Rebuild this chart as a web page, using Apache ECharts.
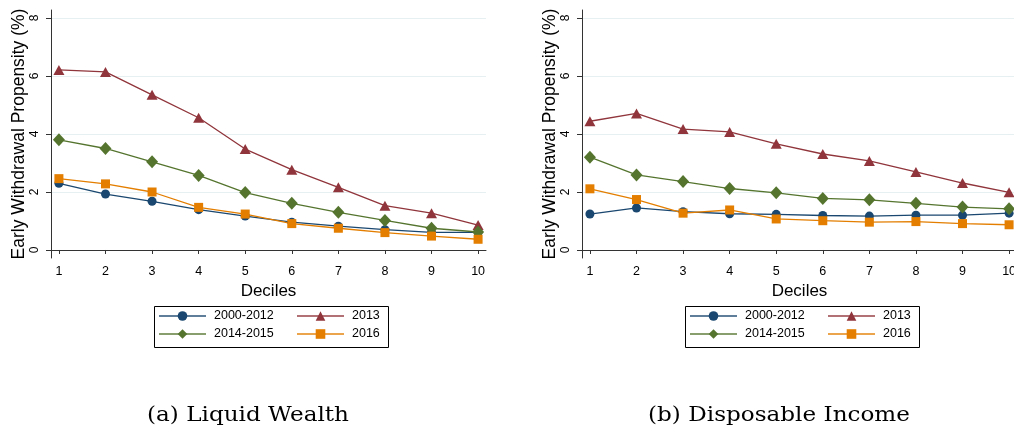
<!DOCTYPE html>
<html>
<head>
<meta charset="utf-8">
<script src="https://cdn.jsdelivr.net/npm/echarts@6/dist/echarts.min.js"></script>
<style>
html,body{margin:0;padding:0;background:#fff;}
#c{width:1014px;height:431px;}
</style>
</head>
<body>
<div id="c"></div>
<script>
const deciles = [1, 2, 3, 4, 5, 6, 7, 8, 9, 10];
const yTicks = [0, 2, 4, 6, 8];
const seriesNames = ['2000-2012', '2013', '2014-2015', '2016'];
const captions = ['(a) Liquid Wealth', '(b) Disposable Income'];

// Panel (a): Liquid Wealth
const wealth_2000_2012 = [2.30, 1.93, 1.68, 1.39, 1.17, 0.96, 0.82, 0.70, 0.61, 0.61];
const wealth_2013      = [6.21, 6.14, 5.35, 4.56, 3.48, 2.77, 2.16, 1.53, 1.27, 0.86];
const wealth_2014_2015 = [3.80, 3.50, 3.04, 2.57, 1.98, 1.61, 1.30, 1.02, 0.75, 0.62];
const wealth_2016      = [2.46, 2.28, 2.00, 1.47, 1.24, 0.91, 0.75, 0.60, 0.48, 0.37];

// Panel (b): Disposable Income
const income_2000_2012 = [1.24, 1.45, 1.32, 1.25, 1.23, 1.19, 1.17, 1.20, 1.20, 1.27];
const income_2013      = [4.44, 4.71, 4.17, 4.07, 3.66, 3.31, 3.07, 2.69, 2.31, 1.99];
const income_2014_2015 = [3.20, 2.59, 2.36, 2.12, 1.97, 1.78, 1.73, 1.61, 1.48, 1.42];
const income_2016      = [2.11, 1.74, 1.27, 1.38, 1.07, 1.01, 0.96, 0.98, 0.91, 0.87];

const colors = ['#1a476f', '#90353b', '#55752f', '#e37e00'];
const symbols = ['circle', 'triangle', 'diamond', 'rect'];
const symSizes = [9, [11, 10], [12, 13], 9];

const panels = [
  [wealth_2000_2012, wealth_2013, wealth_2014_2015, wealth_2016],
  [income_2000_2012, income_2013, income_2014_2015, income_2016]
];

const gridLefts = [51, 582];
const axisColor = '#333';
const font = '"Liberation Sans", Arial, sans-serif';

const grids = gridLefts.map(l => ({left: l, top: 10, width: 435, height: 248,
  containLabel: false, outerBoundsMode: 'none'}));

const xAxes = gridLefts.map((l, i) => ({
  type: 'value', gridIndex: i, min: 0.83, max: 10.17,
  name: 'Deciles', nameLocation: 'middle', nameGap: 17,
  nameTextStyle: {fontFamily: font, fontSize: 17, color: '#000'},
  axisLine: {show: true, lineStyle: {color: axisColor, width: 1}},
  axisTick: {show: true, length: 4, lineStyle: {color: axisColor}, customValues: deciles},
  axisLabel: {fontFamily: font, fontSize: 12.5, color: '#000', margin: 7, customValues: deciles},
  splitLine: {show: false}
}));

const yAxes = gridLefts.map((l, i) => ({
  type: 'value', gridIndex: i, min: -0.276, max: 8.276,
  name: 'Early Withdrawal Propensity (%)', nameLocation: 'middle', nameGap: 21,
  nameTextStyle: {fontFamily: font, fontSize: 17.5, color: '#000'},
  axisLine: {show: true, lineStyle: {color: axisColor, width: 1}},
  axisTick: {show: true, length: 5, lineStyle: {color: axisColor}, customValues: yTicks},
  axisLabel: {fontFamily: font, fontSize: 12, color: '#000', margin: 10, rotate: 90, customValues: yTicks},
  splitLine: {show: true, lineStyle: {color: '#e6eff1', width: 1}, customValues: yTicks}
}));

const series = [];
panels.forEach((panel, p) => {
  panel.forEach((vals, s) => {
    series.push({
      name: seriesNames[s], type: 'line', xAxisIndex: p, yAxisIndex: p,
      data: deciles.map((d, k) => [d, vals[k]]),
      symbol: symbols[s], symbolSize: symSizes[s], showSymbol: true,
      lineStyle: {color: colors[s], width: 1.3},
      itemStyle: {color: colors[s]},
      animation: false
    });
  });
});

const legends = gridLefts.map((l, i) => ({
  left: l + 107, top: 308, width: 280, orient: 'horizontal',
  itemWidth: 47, itemHeight: 12, itemGap: 2, padding: 0,
  data: seriesNames,
  lineStyle: {opacity: 0.7},
  textStyle: {fontFamily: font, fontSize: 12.5, color: '#000', width: 80, lineHeight: 16, padding: [0, 0, 0, 3]}
}));

const graphics = [];
gridLefts.forEach((l, i) => {
  graphics.push({type: 'rect', left: l + 101, top: 304, shape: {width: 234, height: 41},
    style: {fill: 'none', stroke: '#000', lineWidth: 1}, silent: true});
});
const captionCenters = [248, 779];
captions.forEach((t, i) => {
  graphics.push({type: 'text', x: captionCenters[i], y: 416, scaleX: 1.1,
    style: {text: t, font: '21px "DejaVu Serif", "Liberation Serif", serif', fill: '#000', textAlign: 'center', textVerticalAlign: 'middle'}});
});

const chart = echarts.init(document.getElementById('c'), null, {renderer: 'canvas'});
chart.setOption({
  backgroundColor: '#fff',
  animation: false,
  grid: grids, xAxis: xAxes, yAxis: yAxes,
  legend: legends, series: series, graphic: graphics
});
</script>
</body>
</html>
